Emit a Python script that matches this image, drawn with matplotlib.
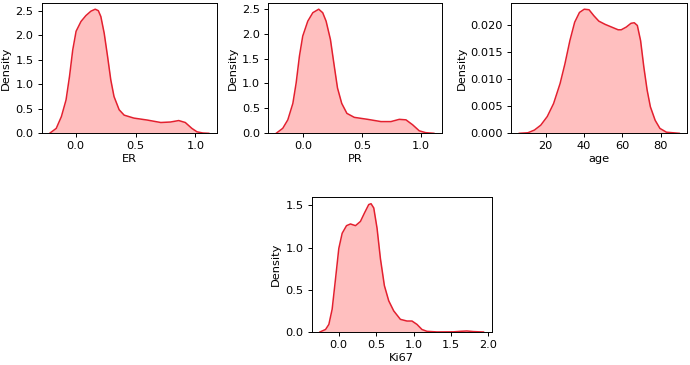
import matplotlib
matplotlib.use("Agg")
import matplotlib.pyplot as plt
from matplotlib.ticker import MultipleLocator

# Density curves (x, density)
er_x = [-0.218, -0.163, -0.120, -0.081, -0.052, -0.025, 0.003, 0.044, 0.085, 0.127, 0.163, 0.189, 0.210,
        0.238, 0.266, 0.293, 0.320, 0.363, 0.405, 0.486, 0.598, 0.711, 0.792, 0.861, 0.916, 0.971, 1.014,
        1.063, 1.112]
er_y = [0.0, 0.10, 0.34, 0.68, 1.16, 1.70, 2.08, 2.28, 2.40, 2.49, 2.53, 2.50, 2.38,
        2.04, 1.57, 1.09, 0.75, 0.48, 0.37, 0.31, 0.27, 0.22, 0.23, 0.26, 0.22, 0.10, 0.03, 0.006, 0.0]

pr_x = [-0.232, -0.176, -0.133, -0.09, -0.062, -0.034, -0.006, 0.037, 0.08, 0.13, 0.164, 0.193,
        0.23, 0.263, 0.29, 0.326, 0.37, 0.433, 0.547, 0.66, 0.745, 0.816, 0.873, 0.93, 0.986, 1.04, 1.11]
pr_y = [0.0, 0.10, 0.27, 0.60, 1.01, 1.55, 1.95, 2.25, 2.42, 2.49, 2.42, 2.25,
        1.88, 1.34, 0.91, 0.60, 0.40, 0.32, 0.28, 0.235, 0.235, 0.28, 0.27, 0.17, 0.05, 0.013, 0.0]

age_x = [6.2, 10.7, 14.1, 17.4, 20.8, 24.1, 27.5, 30.0, 32.6, 35.1, 37.6, 40.1, 42.6, 45.1, 47.7,
         51.0, 54.4, 57.8, 59.4, 62.0, 64.5, 66.2, 67.8, 69.5, 71.2, 72.9, 74.6, 77.1, 79.6, 83.0, 89.7]
age_y = [0.0, 0.0001, 0.0006, 0.0015, 0.0031, 0.0055, 0.0092, 0.0128, 0.0171, 0.0205, 0.0223, 0.0229,
         0.0228, 0.0217, 0.0207, 0.0201, 0.0196, 0.0191, 0.0191, 0.0196, 0.0203, 0.0204, 0.0199,
         0.0171, 0.0122, 0.0080, 0.0049, 0.0024, 0.0009, 0.0002, 0.0]

ki_x = [-0.253, -0.177, -0.133, -0.089, -0.044, 0.0, 0.045, 0.103, 0.156, 0.223, 0.289, 0.343, 0.400,
        0.431, 0.467, 0.511, 0.556, 0.609, 0.667, 0.734, 0.823, 0.911, 0.978, 1.045, 1.111, 1.178,
        1.311, 1.534, 1.623, 1.711, 1.800, 1.934]
ki_y = [0.0, 0.03, 0.09, 0.27, 0.63, 0.99, 1.17, 1.26, 1.28, 1.26, 1.31, 1.41, 1.51,
        1.52, 1.47, 1.23, 0.87, 0.55, 0.37, 0.25, 0.15, 0.13, 0.13, 0.09, 0.03, 0.008,
        0.001, 0.002, 0.008, 0.012, 0.005, 0.0]

names = ["ER", "PR", "age", "Ki67"]
xs = [er_x, pr_x, age_x, ki_x]
ys = [er_y, pr_y, age_y, ki_y]
ysteps = [0.5, 0.5, 0.005, 0.5]

W, H = 690, 365
fig = plt.figure(figsize=(W / 100, H / 100), dpi=100)

# axes boxes in pixels: left, right, top, bottom
boxes = [(41.7, 216.7, 3.0, 133.3),
         (268.3, 441.7, 3.0, 133.3),
         (511.3, 687.3, 3.0, 133.3),
         (311.7, 491.7, 197.3, 332.0)]

fs = 8.2
line_c = "#e3202f"
for name, x, y, st, (l, r, t, b) in zip(names, xs, ys, ysteps, boxes):
    ax = fig.add_axes([l / W, 1 - b / H, (r - l) / W, (b - t) / H])
    ax.fill_between(x, y, 0, color="red", alpha=0.25, linewidth=0)
    ax.plot(x, y, color=line_c, linewidth=1.1)
    ax.set_ylim(bottom=0)
    ax.yaxis.set_major_locator(MultipleLocator(st))
    ax.set_xlabel(name, fontsize=fs, labelpad=2)
    ax.set_ylabel("Density", fontsize=fs, labelpad=3)
    ax.tick_params(labelsize=fs, length=3, width=0.7, pad=2.8)
    for s in ax.spines.values():
        s.set_linewidth(0.7)

fig.savefig("out.png", dpi=100)
